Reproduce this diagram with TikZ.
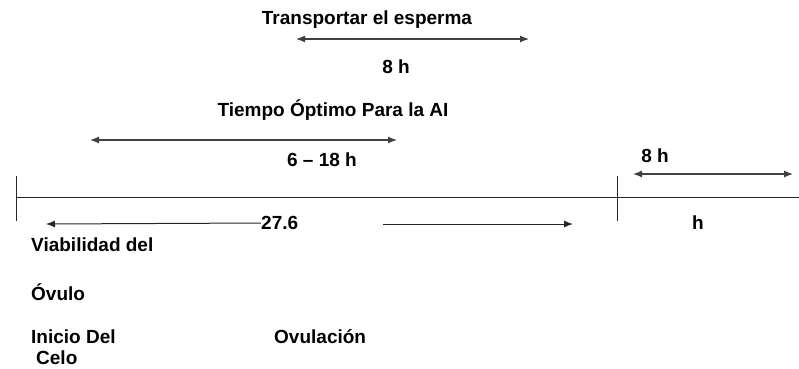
\documentclass[tikz,border=0pt]{standalone}
\usepackage{fontspec}
\setmainfont{Liberation Sans}
\usetikzlibrary{arrows.meta}

\tikzset{
	lbl/.style={font=\fontsize{19}{21}\selectfont\bfseries, inner sep=0pt},
	lbll/.style={lbl, anchor=west},
	span/.style={line width=1.2pt, black!75, {Latex[length=9pt,width=7pt]}-{Latex[length=9pt,width=7pt]}},
	onearrow/.style={line width=1pt, black!85, -{Latex[length=9pt,width=7pt]}},
	axis/.style={line width=1pt, black!85}
}

\begin{document}
\begin{tikzpicture}[x=1pt, y={(0pt,-1pt)}]
	\useasboundingbox (0, 0) rectangle (799, 368);

	% transport of the sperm
	\node[lbl] (transp) at (367, 20) {Transportar el esperma};
	\coordinate (tA) at (296, 39);
	\coordinate (tB) at (529, 39);
	\draw[span] (tA) -- (tB);
	\node[lbl] (ochoh) at (396, 67) {8 h};

	% optimal time for AI
	\node[lbl] (optimo) at (333, 110) {Tiempo Óptimo Para la AI};
	\coordinate (oA) at (90, 140);
	\coordinate (oB) at (397, 140);
	\draw[span] (oA) -- (oB);
	\node[lbl] (seis) at (322, 160) {6 -- 18 h};

	% time line
	\coordinate (lineL) at (16, 197);
	\coordinate (lineR) at (799, 197);
	\draw[axis] (lineL) -- (lineR);
	\coordinate (tickL) at (16, 176);
	\coordinate (tickLb) at (16, 221);
	\draw[axis] (tickL) -- (tickLb);
	\coordinate (tickR) at (617, 176);
	\coordinate (tickRb) at (617, 221);
	\draw[axis] (tickR) -- (tickRb);

	% right part
	\node[lbl] (ochoR) at (655, 156) {8 h};
	\coordinate (rA) at (633, 174);
	\coordinate (rB) at (793, 174);
	\draw[span] (rA) -- (rB);
	\node[lbl] (hR) at (698, 223) {h};

	% viability
	\node[lbll] (veinte) at (261, 223) {27.6};
	\coordinate (vA) at (46, 224);
	\draw[onearrow] (veinte.west) -- (vA);
	\coordinate (wA) at (383, 224);
	\coordinate (wB) at (573, 224);
	\draw[onearrow] (wA) -- (wB);

	\node[lbll] (viab) at (31, 245) {Viabilidad del};
	\node[lbll] (ovulo) at (31, 292) {Óvulo};
	\node[lbll] (inicio) at (31, 337) {Inicio Del};
	\node[lbll] (celo) at (36, 358) {Celo};
	\node[lbll] (ovulac) at (274, 337) {Ovulación};
\end{tikzpicture}
\end{document}
